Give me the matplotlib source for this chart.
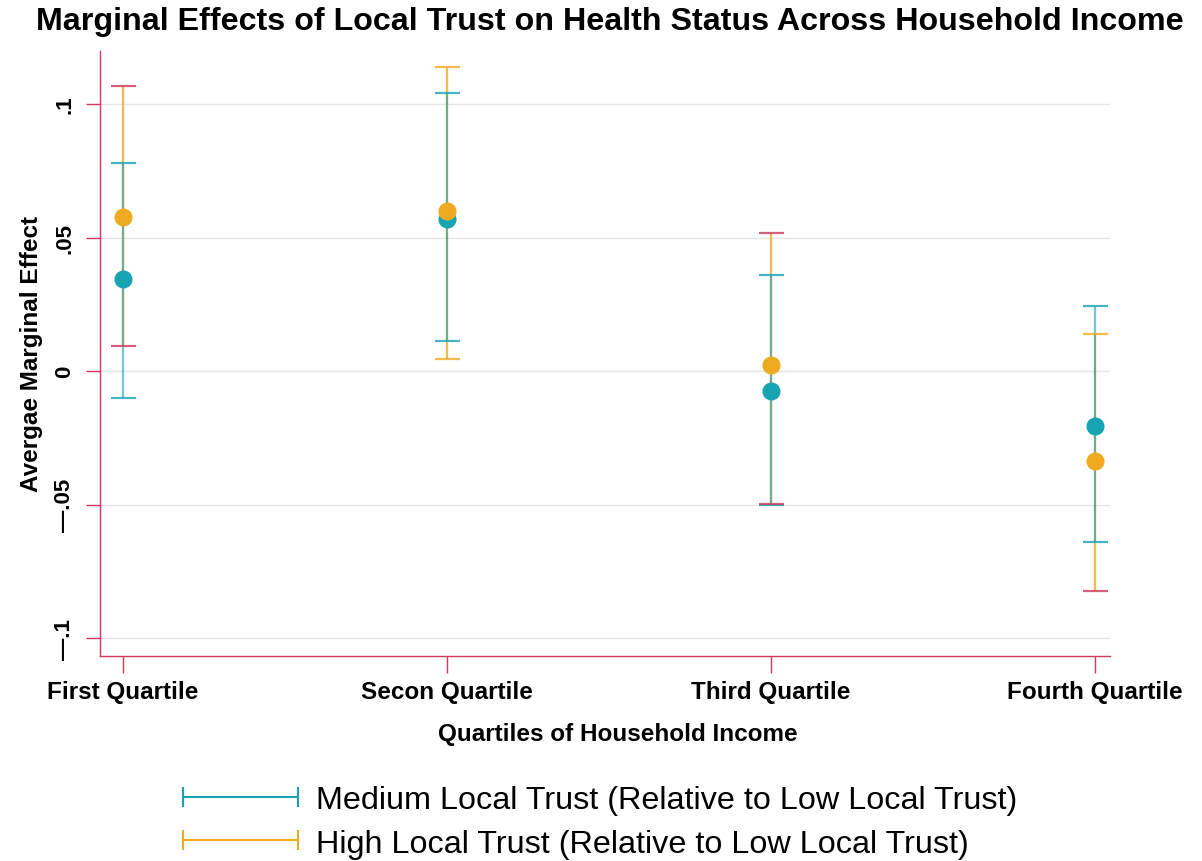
import matplotlib
matplotlib.use("Agg")
import matplotlib.pyplot as plt
from matplotlib.lines import Line2D
import numpy as np

plt.rcParams['font.family'] = ['Liberation Sans', 'DejaVu Sans']

categories = ["First Quartile", "Secon Quartile", "Third Quartile", "Fourth Quartile"]
med_est = [0.0345, 0.0569, -0.0075, -0.0206]
med_lo = [-0.0101, 0.0112, -0.0502, -0.0640]
med_hi = [0.0779, 0.1041, 0.0360, 0.0243]
high_est = [0.0577, 0.0599, 0.0022, -0.0337]
high_lo = [0.0094, 0.0045, -0.0498, -0.0824]
high_hi = [0.1067, 0.1139, 0.0517, 0.0139]
yticks = [-0.1, -0.05, 0, 0.05, 0.1]
yticklabels = ["—.1", "—.05", "0", ".05", ".1"]

TEAL = "#17a3b2"
ORANGE = "#f0aa22"
CRIMSON = "#d0385c"
med_cap_lo = [TEAL, TEAL, TEAL, TEAL]
med_cap_hi = [TEAL, TEAL, TEAL, TEAL]
high_cap_lo = [CRIMSON, ORANGE, CRIMSON, CRIMSON]
high_cap_hi = [CRIMSON, ORANGE, CRIMSON, ORANGE]

fig = plt.figure(figsize=(12.02, 8.62), dpi=100)
ax = fig.add_axes([0.0832, 0.2378, 0.8403, 0.7019])

x = np.arange(1, len(categories) + 1)

# error bar lines
ax.vlines(x, high_lo, high_hi, color=ORANGE, alpha=0.8, lw=1.6, zorder=2)
ax.vlines(x, med_lo, med_hi, color=TEAL, alpha=0.6, lw=1.6, zorder=3)

# caps
cap_ms = 18
for i, xi in enumerate(x):
    ax.plot([xi], [med_lo[i]], marker='_', ms=cap_ms, mew=1.6, color=med_cap_lo[i], alpha=0.8, zorder=3)
    ax.plot([xi], [med_hi[i]], marker='_', ms=cap_ms, mew=1.6, color=med_cap_hi[i], alpha=0.8, zorder=3)
    ax.plot([xi], [high_lo[i]], marker='_', ms=cap_ms, mew=1.6, color=high_cap_lo[i], alpha=0.8, zorder=4)
    ax.plot([xi], [high_hi[i]], marker='_', ms=cap_ms, mew=1.6, color=high_cap_hi[i], alpha=0.8, zorder=4)

# points
ax.plot(x, med_est, 'o', ms=13, color=TEAL, mec='none', zorder=5)
ax.plot(x, high_est, 'o', ms=13, color=ORANGE, mec='none', zorder=6)

ax.set_xlim(0.929, 4.046)
ax.set_ylim(-0.1067, 0.1199)
ax.set_yticks(yticks)
ax.set_yticklabels(yticklabels, rotation=90, va='center', fontsize=16, fontweight='bold')
ax.set_xticks(x)
ax.set_xticklabels(categories, fontsize=17.5, fontweight='bold')
ax.tick_params(axis='y', colors=CRIMSON, length=10, width=1, labelcolor='black', pad=8)
ax.tick_params(axis='x', colors=CRIMSON, length=12, width=1, labelcolor='black', pad=5)
ax.grid(axis='y', color='#e6e6e6', lw=1)
ax.set_axisbelow(True)
for s in ['top', 'right']:
    ax.spines[s].set_visible(False)
for s in ['left', 'bottom']:
    ax.spines[s].set_color(CRIMSON)
    ax.spines[s].set_linewidth(1)

ax.set_ylabel("Avergae Marginal Effect", fontsize=17.5, fontweight='bold', labelpad=8)
ax.set_xlabel("Quartiles of Household Income", fontsize=17.5, fontweight='bold')
ax.xaxis.set_label_coords(0.513, -0.109)
fig.text(0.507, 0.974, "Marginal Effects of Local Trust on Health Status Across Household Income",
         ha='center', va='center', fontsize=23.2, fontweight='bold')

handles = [
    Line2D([0, 1], [0, 0], color=TEAL, lw=1.5, marker='|', ms=14, mew=1.5),
    Line2D([0, 1], [0, 0], color=ORANGE, lw=1.5, marker='|', ms=14, mew=1.5),
]
labels = ["Medium Local Trust (Relative to Low Local Trust)",
          "High Local Trust (Relative to Low Local Trust)"]
fig.legend(handles, labels, loc='center', bbox_to_anchor=(0.4955, 0.0455), ncol=1, frameon=False,
           fontsize=23.3, numpoints=2, handlelength=4.15, handletextpad=0.25, labelspacing=0.42,
           markerfirst=True)

fig.savefig("out.png", dpi=100)
